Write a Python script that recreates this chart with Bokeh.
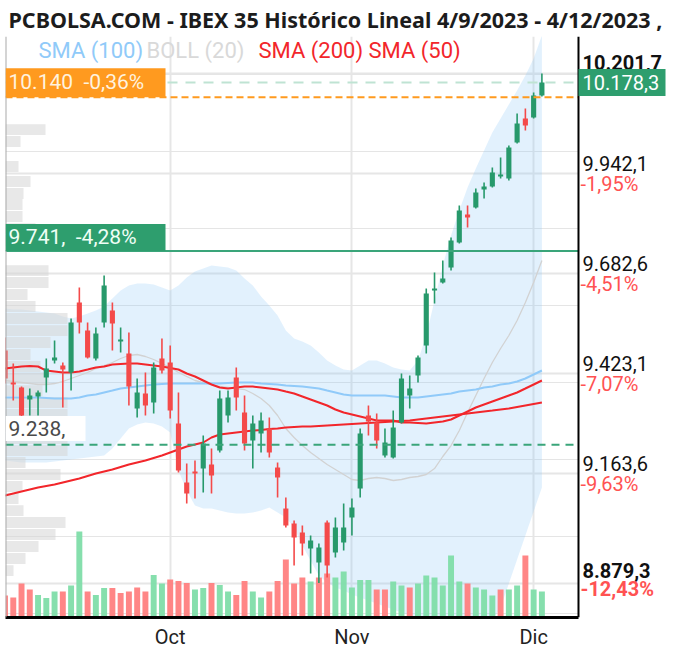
from bokeh.plotting import figure
from bokeh.models import Range1d, FixedTicker, Span, Label, BoxAnnotation, Grid
from bokeh.embed import file_html
from bokeh.resources import INLINE

TITLE = "PCBOLSA.COM - IBEX 35 Histórico Lineal 4/9/2023 - 4/12/2023 ,"

idx = list(range(66))
opens = [9482.8, 9399.8, 9386.8, 9355.7, 9363.5, 9412.8, 9456.9, 9443.9, 9425.8, 9607.4,
         9534.7, 9462.1, 9555.5, 9586.6, 9506.2, 9475.1, 9332.3, 9371.3, 9347.9, 9462.1,
         9451.7, 9293.4, 9140.3, 9168.9, 9176.6, 9187.0, 9223.3, 9314.2, 9412.8, 9322.0,
         9249.3, 9267.5, 9280.4, 9179.2, 9072.8, 9033.9, 9010.6, 8969.0, 8932.7, 9036.5,
         8958.7, 8984.6, 9049.5, 9124.7, 9314.2, 9296.0, 9210.4, 9205.2, 9296.0, 9366.1,
         9418.0, 9495.8, 9638.5, 9659.3, 9698.2, 9763.1, 9835.8, 9853.9, 9900.6, 9908.4,
         9934.4, 9929.2, 10022.6, 10084.9, 10087.5, 10144.6]
highs = [9516.6, 9449.1, 9389.4, 9384.2, 9379.0, 9462.1, 9508.8, 9451.7, 9565.9, 9646.3,
         9555.5, 9542.5, 9677.5, 9607.4, 9542.5, 9529.6, 9410.2, 9425.8, 9451.7, 9514.0,
         9495.8, 9373.9, 9189.6, 9197.4, 9262.3, 9228.5, 9379.0, 9379.0, 9438.7, 9366.1,
         9314.2, 9322.0, 9309.0, 9192.2, 9101.4, 9041.7, 9028.7, 9002.8, 8982.0, 9041.7,
         9049.5, 9085.8, 9098.8, 9280.4, 9340.1, 9319.4, 9280.4, 9327.1, 9423.2, 9418.0,
         9469.9, 9643.7, 9685.3, 9716.4, 9776.1, 9859.1, 9859.1, 9903.2, 9918.8, 9957.7,
         9983.7, 10014.8, 10097.9, 10110.8, 10152.4, 10201.7]
lows = [9397.2, 9353.1, 9311.6, 9314.2, 9314.2, 9373.9, 9449.1, 9334.9, 9379.0, 9527.0,
        9462.1, 9456.9, 9542.5, 9482.8, 9477.7, 9340.1, 9309.0, 9314.2, 9319.4, 9423.2,
        9306.4, 9166.3, 9085.8, 9098.8, 9114.4, 9111.8, 9218.2, 9296.0, 9327.1, 9223.3,
        9176.6, 9218.2, 9205.2, 9101.4, 9023.5, 8924.9, 8950.9, 8904.2, 8879.3, 8893.8,
        8945.7, 8963.8, 9002.8, 9101.4, 9262.3, 9228.5, 9205.2, 9202.6, 9293.4, 9332.3,
        9399.8, 9475.1, 9604.8, 9656.7, 9690.4, 9760.5, 9802.0, 9851.3, 9877.3, 9905.8,
        9929.2, 9924.0, 10020.0, 10053.7, 10084.9, 10142.0]
closes = [9410.2, 9394.6, 9314.2, 9366.1, 9373.9, 9436.1, 9464.7, 9433.5, 9555.5, 9555.5,
          9464.7, 9527.0, 9651.5, 9552.9, 9511.4, 9389.4, 9373.9, 9340.1, 9438.7, 9430.9,
          9327.1, 9171.4, 9111.8, 9163.7, 9241.5, 9158.5, 9358.3, 9360.9, 9360.9, 9241.5,
          9293.4, 9301.2, 9218.2, 9153.3, 9028.7, 8997.6, 8982.0, 8989.8, 8971.6, 8924.9,
          9023.5, 9023.5, 9075.4, 9267.5, 9298.6, 9249.3, 9244.1, 9283.0, 9410.2, 9384.2,
          9464.7, 9630.8, 9643.7, 9669.7, 9768.3, 9846.1, 9828.0, 9892.9, 9908.4, 9944.8,
          9939.6, 10009.6, 10071.9, 10066.7, 10144.6, 10178.3]
volume = [110, 100, 170, 140, 112, 98, 130, 130, 160, 430,
          130, 112, 148, 148, 122, 130, 150, 130, 212, 170,
          190, 182, 172, 140, 148, 172, 162, 130, 112, 182,
          130, 100, 130, 182, 290, 170, 200, 180, 200, 220,
          200, 230, 150, 187, 187, 140, 140, 180, 160, 150,
          170, 210, 200, 160, 310, 180, 170, 150, 140, 110,
          140, 140, 160, 310, 140, 130]
vol_up = [0, 0, 0, 0, 1, 1, 1, 0, 1, 1,
          0, 1, 1, 0, 0, 0, 0, 0, 1, 1,
          0, 0, 0, 1, 1, 0, 1, 1, 0, 0,
          1, 1, 0, 0, 0, 0, 0, 1, 0, 0,
          1, 1, 1, 1, 1, 0, 0, 1, 1, 0,
          1, 1, 1, 1, 1, 1, 0, 1, 1, 1,
          0, 1, 1, 0, 1, 1]
sma100 = [9360.9, 9360.9, 9360.9, 9360.9, 9360.9, 9359.6, 9358.3, 9358.3, 9358.3, 9360.9,
          9366.1, 9368.7, 9373.9, 9379.0, 9384.2, 9386.8, 9389.4, 9392.0, 9394.6, 9395.9,
          9397.2, 9397.2, 9397.2, 9397.2, 9397.2, 9397.2, 9397.2, 9398.5, 9399.8, 9399.8,
          9399.8, 9397.2, 9395.9, 9394.6, 9392.0, 9390.7, 9389.4, 9386.8, 9384.2, 9379.0,
          9373.9, 9368.7, 9366.1, 9366.1, 9366.1, 9366.1, 9366.1, 9363.5, 9360.9, 9360.9,
          9360.9, 9363.5, 9366.1, 9368.7, 9371.3, 9376.4, 9379.0, 9381.6, 9386.8, 9389.4,
          9394.6, 9397.2, 9402.4, 9410.2, 9420.6, 9430.9]
sma50 = [9436.1, 9438.7, 9441.3, 9442.6, 9441.3, 9430.9, 9428.4, 9425.8, 9425.8, 9428.4,
         9433.5, 9438.7, 9441.3, 9446.5, 9447.8, 9449.1, 9449.1, 9446.5, 9443.9, 9441.3,
         9437.4, 9433.5, 9423.2, 9415.4, 9405.0, 9394.6, 9386.8, 9384.2, 9386.8, 9389.4,
         9389.4, 9386.8, 9384.2, 9381.6, 9376.4, 9371.3, 9363.5, 9355.7, 9347.9, 9340.1,
         9329.7, 9322.0, 9316.8, 9311.6, 9306.4, 9301.2, 9301.2, 9301.2, 9296.0, 9296.0,
         9294.7, 9293.4, 9296.0, 9298.6, 9303.8, 9314.2, 9324.6, 9334.9, 9342.7, 9350.5,
         9358.3, 9366.1, 9373.9, 9384.2, 9394.6, 9405.0]
sma200 = [9106.6, 9111.8, 9117.0, 9122.2, 9127.3, 9131.2, 9135.1, 9140.3, 9145.5, 9150.7,
          9157.2, 9163.7, 9168.9, 9174.0, 9180.5, 9187.0, 9192.2, 9197.4, 9203.9, 9210.4,
          9218.2, 9226.0, 9233.7, 9238.9, 9244.1, 9257.1, 9264.9, 9267.5, 9270.1, 9272.7,
          9275.2, 9276.5, 9279.1, 9280.4, 9283.0, 9284.3, 9285.6, 9285.6, 9286.9, 9288.2,
          9289.5, 9290.8, 9292.1, 9293.4, 9294.7, 9296.0, 9297.3, 9298.6, 9299.9, 9301.2,
          9303.8, 9306.4, 9309.0, 9311.6, 9314.2, 9316.8, 9319.4, 9322.0, 9324.6, 9327.1,
          9329.7, 9332.3, 9336.2, 9340.1, 9344.0, 9347.9]
boll_upper = [9591.8, 9589.2, 9589.2, 9586.6, 9584.1, 9581.5, 9578.9, 9571.1, 9565.9, 9571.1,
              9578.9, 9586.6, 9597.0, 9617.8, 9638.5, 9651.5, 9656.7, 9656.7, 9654.1, 9646.3,
              9638.5, 9651.5, 9672.3, 9687.9, 9695.6, 9703.4, 9700.8, 9698.2, 9690.4, 9669.7,
              9651.5, 9623.0, 9599.6, 9573.7, 9534.7, 9514.0, 9506.2, 9495.8, 9477.7, 9456.9,
              9443.9, 9433.5, 9430.9, 9443.9, 9456.9, 9456.9, 9449.1, 9438.7, 9433.5, 9430.9,
              9456.9, 9521.8, 9612.6, 9703.4, 9781.3, 9846.1, 9905.8, 9955.1, 10001.8, 10048.6,
              10084.9, 10121.2, 10157.5, 10196.5, 10240.6, 10300.3]
boll_lower = [9197.4, 9194.8, 9192.2, 9192.2, 9192.2, 9192.2, 9194.8, 9197.4, 9200.0, 9202.6,
              9205.2, 9207.8, 9210.4, 9228.5, 9254.5, 9280.4, 9290.8, 9296.0, 9293.4, 9285.6,
              9270.1, 9171.4, 9119.5, 9080.6, 9072.8, 9072.8, 9067.6, 9062.5, 9059.9, 9059.9,
              9062.5, 9067.6, 9075.4, 9062.5, 9049.5, 9023.5, 8976.8, 8937.9, 8899.0, 8880.8,
              8867.8, 8860.0, 8849.7, 8841.9, 8834.1, 8826.3, 8818.5, 8810.7, 8803.0, 8795.2,
              8787.4, 8779.6, 8771.8, 8764.0, 8758.8, 8756.2, 8756.2, 8761.4, 8769.2, 8782.2,
              8815.9, 8878.2, 8940.5, 9002.8, 9065.1, 9127.3]
boll_mid = [9405.0, 9402.4, 9399.8, 9397.2, 9394.6, 9394.6, 9397.2, 9402.4, 9410.2, 9418.0,
            9425.8, 9436.1, 9443.9, 9451.7, 9462.1, 9469.9, 9472.5, 9467.3, 9459.5, 9449.1,
            9438.7, 9425.8, 9415.4, 9405.0, 9399.8, 9394.6, 9389.4, 9386.8, 9384.2, 9381.6,
            9371.3, 9358.3, 9340.1, 9314.2, 9280.4, 9257.1, 9236.3, 9218.2, 9202.6, 9187.0,
            9174.0, 9161.1, 9148.1, 9145.5, 9150.7, 9153.3, 9150.7, 9145.5, 9148.1, 9153.3,
            9155.9, 9161.1, 9176.6, 9207.8, 9236.3, 9275.2, 9322.0, 9366.1, 9410.2, 9451.7,
            9488.0, 9521.8, 9560.7, 9607.4, 9659.3, 9716.4]
vp_price = [10056.3, 10025.2, 9960.3, 9921.4, 9890.3, 9861.7, 9830.6, 9799.4, 9768.3,
            9690.4, 9659.3, 9628.2, 9597.0, 9565.9, 9534.7, 9503.6, 9472.5, 9441.3, 9410.2,
            9379.0, 9347.9, 9316.8, 9285.6, 9254.5, 9223.3, 9192.2, 9161.1, 9129.9, 9098.8,
            9067.6, 9036.5, 9005.4, 8974.2, 8943.1, 8911.9]
vp_volume = [40, 15, 13, 25, 18, 17, 17, 30, 30,
             43, 43, 22, 30, 62, 62, 45, 25, 35, 43,
             37, 62, 62, 45, 62, 62, 20, 55, 17, 13,
             18, 60, 50, 33, 20, 8]
month_ticks = [0, 20, 42, 64]
month_labels = ["Sep", "Oct", "Nov", "Dic"]
price_ticks = [10201.7, 9942.1, 9682.6, 9423.1, 9163.6, 8879.3]
price_tick_labels = ["10.201,7", "9.942,1", "9.682,6", "9.423,1", "9.163,6", "8.879,3"]
pct_tick_labels = ["", "-1,95%", "-4,51%", "-7,07%", "-9,63%", "-12,43%"]
ref_price = 10140.0
ref_label = "10.140\u00a0\u00a0-0,36%"
level_price = 9741.0
level_label = "9.741,\u00a0\u00a0-4,28%"
support_price = 9238.0
support_label = "9.238,"
last_label = "10.178,3"
legend_items = ["SMA (100)", "BOLL (20)", "SMA (200)", "SMA (50)"]
legend_colors = ["#90CAF9", "#D9D9D9", "#F2262B", "#F2262B"]

GREEN = "#27996B"
RED = "#F44A4A"
FONT = "Roboto"
X_END = 69.43          # right edge of the price area (where the price axis sits)

p = figure(width=680, height=660, x_range=Range1d(0.06, 81.78),
           y_range=Range1d(8790.0, 10297.7), y_axis_location=None,
           output_backend="svg", toolbar_location=None,
           min_border_left=5, min_border_right=0, min_border_top=0,
           min_border_bottom=43, title=TITLE)
p.extra_y_ranges = {"vol": Range1d(0, 2905)}
p.extra_x_ranges = {"vp": Range1d(0, 675)}
p.outline_line_color = None
p.background_fill_color = "white"
p.border_fill_color = "white"

p.title.text_font = "Noto Sans"
p.title.text_font_size = "21.5px"
p.title.text_font_style = "bold"
p.title.text_color = "#1c1c1c"
p.title.offset = 3
p.title.standoff = 5

# x axis
p.xaxis.ticker = FixedTicker(ticks=month_ticks)
p.xaxis.major_label_overrides = {t: l for t, l in zip(month_ticks, month_labels)}
p.xaxis.bounds = (0.06, X_END)
p.xaxis.axis_line_color = "black"
p.xaxis.axis_line_width = 3
p.xaxis.major_tick_line_color = None
p.xaxis.minor_tick_line_color = None
p.xaxis.major_tick_out = 0
p.xaxis.major_label_text_font = FONT
p.xaxis.major_label_text_font_size = "20px"
p.xaxis.major_label_text_color = "#222222"
p.xaxis.major_label_standoff = 7

p.xgrid.ticker = FixedTicker(ticks=month_ticks[1:])
p.xgrid.grid_line_color = "#E6E6E6"
p.xgrid.grid_line_width = 2
p.add_layout(Grid(dimension=1, ticker=FixedTicker(ticks=price_ticks),
                  grid_line_color="#E6E6E6", grid_line_width=2))

# bollinger band
p.varea(x=idx, y1=boll_lower, y2=boll_upper, fill_color="#90CAF9", fill_alpha=0.26)

# volume profile
p.hbar(y=vp_price, height=28, left=0, right=vp_volume, x_range_name="vp",
       fill_color="#D6D6D6", fill_alpha=0.55, line_color=None)

# volume
vol_colors = ["#7FDDA9" if u else "#FF7F7F" for u in vol_up]
p.vbar(x=idx, top=volume, bottom=0, width=0.72, y_range_name="vol",
       fill_color=vol_colors, line_color=None, fill_alpha=0.95)

# indicator lines
p.line(idx, boll_mid, line_color="#D2D2D2", line_width=1.3)
p.line(idx, sma100, line_color="#90CAF9", line_width=2)
p.line(idx, sma200, line_color="#F2262B", line_width=2)
p.line(idx, sma50, line_color="#F2262B", line_width=2)

# horizontal level lines
p.add_layout(Span(location=closes[-1], dimension="width", line_color="#BFE3D3",
                  line_width=2, line_dash="10 8"))
p.add_layout(Span(location=ref_price, dimension="width", line_color="#FF9A1F",
                  line_width=2, line_dash="7 4"))
p.add_layout(Span(location=level_price, dimension="width", line_color="#3AA57A",
                  line_width=2))
p.add_layout(Span(location=support_price, dimension="width", line_color="#3AA57A",
                  line_width=2, line_dash="8 6"))

# candles
cc = [GREEN if c >= o else RED for o, c in zip(opens, closes)]
p.segment(x0=idx, y0=highs, x1=idx, y1=lows, line_color=cc, line_width=1.6)
p.vbar(x=idx, top=[max(o, c) for o, c in zip(opens, closes)],
       bottom=[min(o, c) for o, c in zip(opens, closes)], width=0.62,
       fill_color=cc, line_color=None)

# price-scale panel on the right (white background + axis line)
p.add_layout(BoxAnnotation(left=X_END, fill_color="white", fill_alpha=1, line_color=None))
p.add_layout(Span(location=X_END, dimension="height", line_color="black", line_width=2))
p.add_layout(Span(location=0.06, dimension="height", line_color="#A9A9A9", line_width=2))

# left boxed labels
p.add_layout(BoxAnnotation(left=0, right=160, left_units="screen", right_units="screen",
                           bottom=ref_price, top=ref_price + 75, fill_color="#FF9A1F",
                           fill_alpha=1, line_color=None))
p.add_layout(Label(x=3, x_units="screen", y=ref_price, y_offset=15, text=ref_label,
                   text_font=FONT, text_font_size="21px", text_color="#FFF2DE",
                   text_baseline="middle"))
p.add_layout(BoxAnnotation(left=0, right=160, left_units="screen", right_units="screen",
                           bottom=level_price, top=level_price + 70, fill_color="#2E9E6E",
                           fill_alpha=1, line_color=None))
p.add_layout(Label(x=3, x_units="screen", y=level_price, y_offset=14, text=level_label,
                   text_font=FONT, text_font_size="21px", text_color="#EFFFF6",
                   text_baseline="middle"))
p.add_layout(BoxAnnotation(left=0, right=80, left_units="screen", right_units="screen",
                           bottom=support_price + 10, top=support_price + 75, fill_color="white",
                           fill_alpha=1, line_color=None))
p.add_layout(Label(x=3, x_units="screen", y=support_price, y_offset=16, text=support_label,
                   text_font=FONT, text_font_size="21px", text_color="#4A4A4A",
                   text_baseline="middle"))

# legend
for lx, txt, col in zip([33, 141, 253, 363], legend_items, legend_colors):
    p.add_layout(Label(x=lx, x_units="screen", y=10297.7, y_offset=-14, text=txt,
                       text_font=FONT, text_font_size="22px", text_color=col,
                       text_baseline="middle"))

# right price labels
n = len(price_ticks)
for i, (v, t, pc) in enumerate(zip(price_ticks, price_tick_labels, pct_tick_labels)):
    bold = (i == 0 or i == n - 1)
    up = 11 if i == 0 else (12.5 if i == n - 1 else 10)
    down = -5.5 if i == n - 1 else -10.5
    p.add_layout(Label(x=577, x_units="screen", y=v, y_offset=up, text=t,
                       text_font=FONT, text_font_size="20px", text_color="#111111",
                       text_font_style="bold" if bold else "normal", text_baseline="middle"))
    if pc:
        p.add_layout(Label(x=575, x_units="screen", y=v, y_offset=down, text=pc,
                           text_font=FONT, text_font_size="20px", text_color="#FF5252",
                           text_font_style="bold" if bold else "normal",
                           text_baseline="middle"))

p.add_layout(BoxAnnotation(left=573, right=660, left_units="screen", right_units="screen",
                           bottom=closes[-1] - 35, top=closes[-1] + 35, fill_color="#2E9E6E",
                           fill_alpha=1, line_color=None))
p.add_layout(Label(x=577, x_units="screen", y=closes[-1], text=last_label,
                   text_font=FONT, text_font_size="20px", text_color="white",
                   text_baseline="middle"))

open("out.html", "w").write(file_html(p, INLINE))
